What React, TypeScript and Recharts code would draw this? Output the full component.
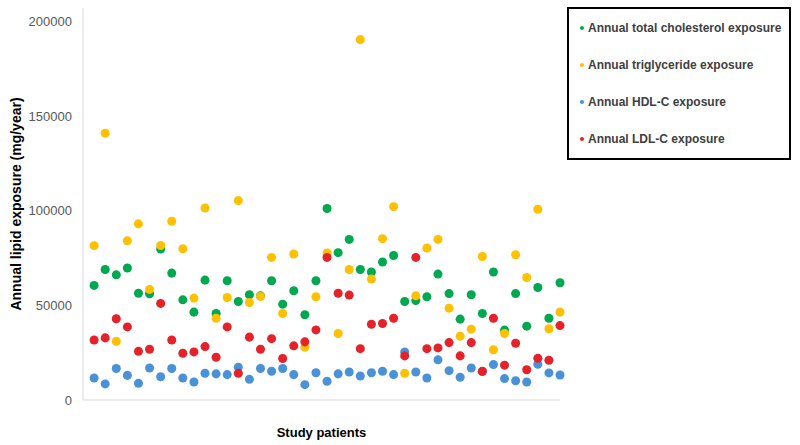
import { ScatterChart, Scatter, XAxis, YAxis, ZAxis, Legend } from "recharts"

// one value per study patient (mg/year), read left to right
const totalCholesterol = [
  60500, 68900, 66100, 69700, 56400, 56100, 79700, 67000, 52900, 46400, 63300, 45700, 63000, 52000, 55600,
  55000, 63000, 50600, 57700, 45000, 63000, 101100, 77800, 84800, 68900, 67600, 72900, 76300, 52000, 52500,
  54500, 66500, 56200, 42700, 55600, 45700, 67600, 36900, 56200, 39000, 59400, 43200, 61900,
]
const triglyceride = [
  81500, 140900, 31000, 84100, 93000, 58400, 81600, 94400, 79900, 53800, 101400, 43200, 54100, 105300, 51500,
  54700, 75300, 45700, 77100, 27900, 54500, 77600, 35100, 68900, 190300, 63900, 85200, 102100, 14100, 55000,
  80300, 84800, 48500, 33700, 37400, 75800, 26500, 35100, 76700, 64700, 100700, 37600, 46400,
]
const hdl = [
  11600, 8500, 16600, 13000, 8800, 16900, 12300, 16600, 11600, 9500, 14100, 13800, 13400, 17300, 10900,
  16600, 15200, 16600, 13400, 8100, 14400, 9900, 13800, 14800, 12700, 14400, 15200, 13400, 25400, 14800,
  11600, 21200, 15500, 12000, 16900, 15000, 18700, 11300, 10200, 9500, 18900, 14300, 13200,
]
const ldl = [
  31700, 32800, 42900, 38600, 25700, 26800, 51000, 31700, 24700, 25400, 28200, 22600, 38600, 14100, 33200,
  26800, 32400, 21900, 28600, 30700, 37000, 75300, 56400, 55400, 27100, 40000, 40400, 43200, 23300, 75300,
  27100, 27500, 30300, 23300, 30300, 15200, 43200, 18400, 30000, 16000, 22000, 21000, 39300,
]

const yTicks = [0, 50000, 100000, 150000, 200000]
const patientCount = totalCholesterol.length
const xTicks = Array.from({ length: patientCount + 1 }, (_, i) => i)

const series = [
  { name: "Annual total cholesterol exposure", values: totalCholesterol, color: "#00A84F" },
  { name: "Annual triglyceride exposure", values: triglyceride, color: "#FFC000" },
  { name: "Annual HDL-C exposure", values: hdl, color: "#4A92D8" },
  { name: "Annual LDL-C exposure", values: ldl, color: "#E5222A" },
]
const seriesOrder = series.map((s) => s.name)

const toPoints = (values: number[]) => values.map((y, i) => ({ x: i + 1, y }))

const font = "Arial, 'Liberation Sans', sans-serif"

function YTitle(props: any) {
  const vb = props.viewBox || {}
  const cx = vb.x + 16
  const cy = vb.y + vb.height / 2
  return (
    <text x={cx} y={cy} transform={`rotate(-90 ${cx} ${cy})`} textAnchor="middle" dominantBaseline="central"
      fontFamily={font} fontSize={14} fontWeight="bold" fill="#000">
      Annual lipid exposure (mg/year)
    </text>
  )
}

function XTitle(props: any) {
  const vb = props.viewBox || {}
  return (
    <text x={vb.x + vb.width / 2} y={vb.y + 32} textAnchor="middle" dominantBaseline="central"
      fontFamily={font} fontSize={13} fontWeight="bold" fill="#000">
      Study patients
    </text>
  )
}

function LegendBox(props: any) {
  // keep the series order (recharts sorts the payload by name)
  const items = [...(props.payload || [])].sort(
    (a: any, b: any) => seriesOrder.indexOf(a.value) - seriesOrder.indexOf(b.value)
  )
  return (
    <div style={{ boxSizing: "border-box", width: 224, height: 153, border: "2px solid #000", background: "#fff", fontFamily: font }}>
      {items.map((p: any) => (
        <div key={p.value} style={{ height: 37, display: "flex", alignItems: "center", paddingLeft: 11 }}>
          <span style={{ width: 4, height: 4, borderRadius: 2, background: p.color, marginRight: 4 }} />
          <span style={{ fontSize: 12, fontWeight: "bold", color: "#404040", whiteSpace: "nowrap" }}>{p.value}</span>
        </div>
      ))}
    </div>
  )
}

export default function App() {
  return (
    <div style={{ width: 800, height: 445 }}>
      <style>{"body{margin:0}"}</style>
      <ScatterChart width={800} height={445} margin={{ top: 8, right: 240, bottom: 0, left: 0 }}>
        <XAxis
          type="number"
          dataKey="x"
          domain={[0, patientCount]}
          ticks={xTicks}
          tick={false}
          tickSize={4}
          height={45}
          axisLine={{ stroke: "#D9D9D9" }}
          tickLine={{ stroke: "#BFBFBF" }}
          label={<XTitle />}
        />
        <YAxis
          type="number"
          dataKey="y"
          domain={[0, 207000]}
          ticks={yTicks}
          width={83}
          tickLine={false}
          tickMargin={5}
          axisLine={{ stroke: "#D9D9D9" }}
          tick={{ fill: "#595959", fontSize: 13, fontFamily: font }}
          label={<YTitle />}
        />
        <ZAxis range={[45, 45]} />
        <Legend
          content={<LegendBox />}
          layout="horizontal"
          verticalAlign="middle"
          align="center"
          wrapperStyle={{ left: 567, top: 7, width: 224, height: 153 }}
        />
        {series.map((s) => (
          <Scatter key={s.name} name={s.name} data={toPoints(s.values)} fill={s.color} isAnimationActive={false} />
        ))}
      </ScatterChart>
    </div>
  )
}
